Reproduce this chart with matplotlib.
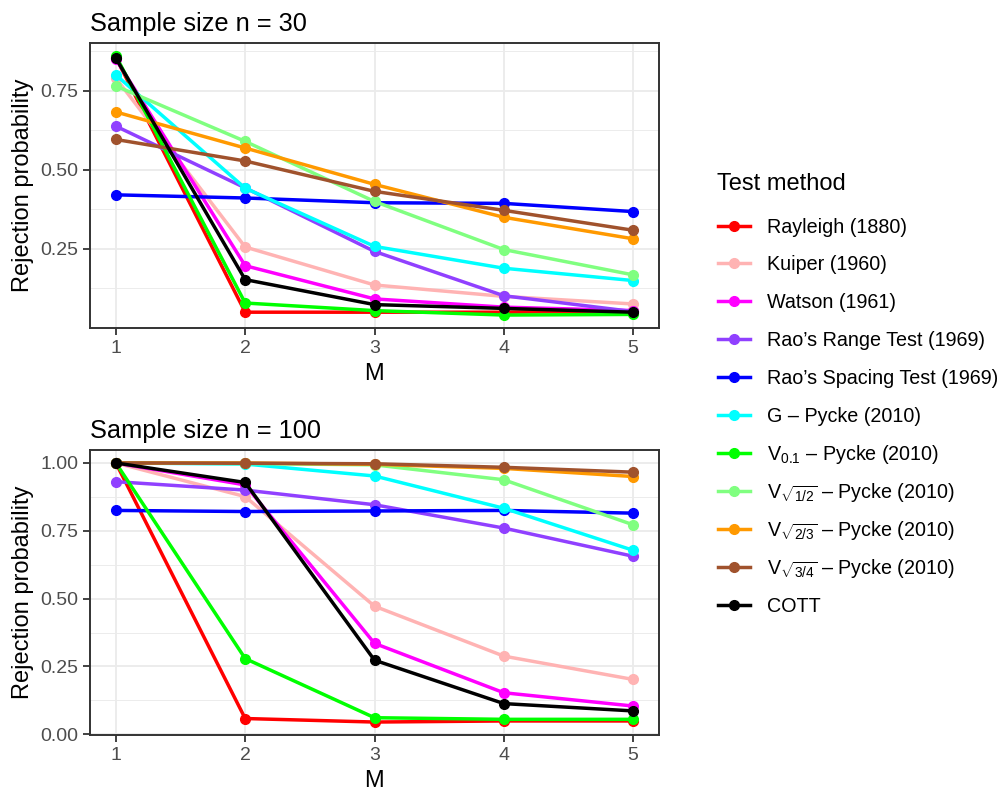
import matplotlib.pyplot as plt
import numpy as np

plt.rcParams['font.family'] = ['Liberation Sans', 'DejaVu Sans']
plt.rcParams['mathtext.fontset'] = 'custom'
plt.rcParams['mathtext.rm'] = 'Liberation Sans'
plt.rcParams['mathtext.it'] = 'Liberation Sans:italic'

# Data
M = [1, 2, 3, 4, 5]
methods = [
    "Rayleigh (1880)", "Kuiper (1960)", "Watson (1961)",
    "Rao’s Range Test (1969)", "Rao’s Spacing Test (1969)",
    "G – Pycke (2010)", "V$_{0.1}$ – Pycke (2010)",
    "V$_{\\sqrt{1/2}}$ – Pycke (2010)", "V$_{\\sqrt{2/3}}$ – Pycke (2010)",
    "V$_{\\sqrt{3/4}}$ – Pycke (2010)", "COTT",
]
colors = ['#FF0000', '#FFB3B3', '#FF00FF', '#9040FF', '#0000FF', '#00FFFF',
          '#00FF00', '#80FF80', '#FF9900', '#A0522D', '#000000']

# n = 30
p30 = [
    [0.855, 0.050, 0.050, 0.050, 0.055],   # Rayleigh
    [0.790, 0.256, 0.136, 0.100, 0.076],   # Kuiper
    [0.850, 0.197, 0.092, 0.066, 0.055],   # Watson
    [0.638, 0.443, 0.242, 0.102, 0.052],   # Rao range
    [0.421, 0.411, 0.396, 0.394, 0.368],   # Rao spacing
    [0.800, 0.442, 0.258, 0.189, 0.150],   # G
    [0.860, 0.079, 0.055, 0.041, 0.043],   # V0.1
    [0.765, 0.590, 0.400, 0.248, 0.168],   # V sqrt(1/2)
    [0.683, 0.569, 0.454, 0.350, 0.282],   # V sqrt(2/3)
    [0.596, 0.528, 0.432, 0.372, 0.309],   # V sqrt(3/4)
    [0.853, 0.153, 0.074, 0.062, 0.050],   # COTT
]
# n = 100
p100 = [
    [1.000, 0.058, 0.045, 0.049, 0.049],
    [1.000, 0.876, 0.472, 0.288, 0.202],
    [1.000, 0.919, 0.335, 0.153, 0.104],
    [0.931, 0.900, 0.846, 0.760, 0.656],
    [0.825, 0.821, 0.823, 0.825, 0.815],
    [1.000, 0.996, 0.952, 0.833, 0.678],
    [1.000, 0.279, 0.061, 0.055, 0.055],
    [1.000, 0.998, 0.993, 0.938, 0.772],
    [1.000, 1.000, 0.995, 0.980, 0.950],
    [1.000, 0.999, 0.997, 0.984, 0.966],
    [1.000, 0.928, 0.273, 0.113, 0.086],
]

W, H = 1003, 793
fig = plt.figure(figsize=(W / 100, H / 100), dpi=100)
ax1 = fig.add_axes([90 / W, 1 - 328 / H, 569 / W, 285 / H])
ax2 = fig.add_axes([90 / W, 1 - 735 / H, 569 / W, 285 / H])

for ax, data, title, yt in [(ax1, p30, "Sample size n = 30", [0.25, 0.5, 0.75]),
                            (ax2, p100, "Sample size n = 100", [0, 0.25, 0.5, 0.75, 1.0])]:
    for vals, c, lab in zip(data, colors, methods):
        ax.plot(M, vals, color=c, lw=2.5, marker='o', ms=7, label=lab)
    arr = np.array(data)
    lo, hi = arr.min(), arr.max()
    pad = 0.05 * (hi - lo)
    ax.set_ylim(lo - pad, hi + pad)
    ax.set_xlim(0.8, 5.2)
    ax.set_xticks(M)
    ax.set_yticks(yt)
    ax.set_yticklabels([f'{v:.2f}' for v in yt])
    minor = [v + 0.125 for v in np.arange(0, 1.0, 0.25)]
    ax.set_yticks(minor, minor=True)
    ax.tick_params(axis='y', which='minor', length=0)
    ax.grid(True, which='major', color='#EBEBEB', lw=1.3)
    ax.grid(True, which='minor', axis='y', color='#EBEBEB', lw=0.65)
    ax.set_axisbelow(True)
    for s in ax.spines.values():
        s.set_color('#333333')
        s.set_linewidth(1.4)
    ax.tick_params(which='major', length=4.8, width=1.3, color='#333333',
                   labelcolor='#4D4D4D', labelsize=14, pad=3.5)
    ax.set_xlabel('M', fontsize=17, labelpad=5)
    ax.set_ylabel('Rejection probability', fontsize=17, labelpad=5)
    ax.set_title(title, loc='left', fontsize=18.3, pad=8.5)

# legend: one row per method so that rows with math labels keep the same pitch
handles, labels = ax1.get_legend_handles_labels()
fig.text(717 / W, 1 - 184 / H, 'Test method', fontsize=17, va='center')
pitch = 37.9
for i, (h, lab) in enumerate(zip(handles, labels)):
    fig.legend([h], [lab], loc='center left',
               bbox_to_anchor=(718 / W, 1 - (227 + i * pitch) / H),
               frameon=False, fontsize=14.2, handlelength=1.6, handletextpad=0.9,
               borderaxespad=0, borderpad=0)

fig.savefig('out.png', dpi=100)
